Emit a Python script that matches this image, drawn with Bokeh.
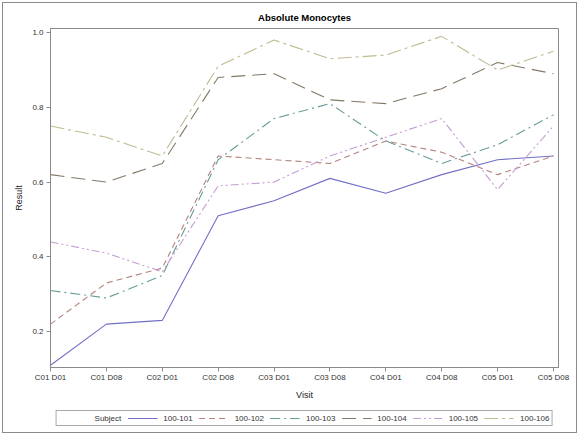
from bokeh.plotting import figure
from bokeh.layouts import column
from bokeh.models import (Range1d, FixedTicker, Legend, LegendItem, ColumnDataSource,
                          PrintfTickFormatter)
from bokeh.embed import file_html
from bokeh.resources import INLINE

# ---- data ----
visits = ["C01 D01", "C01 D08", "C02 D01", "C02 D08", "C03 D01",
          "C03 D08", "C04 D01", "C04 D08", "C05 D01", "C05 D08"]
subjects = ["100-101", "100-102", "100-103", "100-104", "100-105", "100-106"]
s101 = [0.11, 0.22, 0.23, 0.51, 0.55, 0.61, 0.57, 0.62, 0.66, 0.67]
s102 = [0.22, 0.33, 0.37, 0.67, 0.66, 0.65, 0.71, 0.68, 0.62, 0.67]
s103 = [0.31, 0.29, 0.35, 0.66, 0.77, 0.81, 0.71, 0.65, 0.70, 0.78]
s104 = [0.62, 0.60, 0.65, 0.88, 0.89, 0.82, 0.81, 0.85, 0.92, 0.89]
s105 = [0.44, 0.41, 0.36, 0.59, 0.60, 0.67, 0.72, 0.77, 0.58, 0.75]
s106 = [0.75, 0.72, 0.67, 0.91, 0.98, 0.93, 0.94, 0.99, 0.90, 0.95]
y_ticks = [0.2, 0.4, 0.6, 0.8, 1.0]
legend_title = "Subject"

series = [s101, s102, s103, s104, s105, s106]
colors = ["#7370c6", "#b5837e", "#689d98", "#847968", "#c49dd4", "#c0bb92"]
dashes = ["solid", "6 4", "10 4 2 4", "14 7", "8 3 2 3 2 3", "14 4 3 4"]

FONT = "Liberation Sans"
W = 578

p = figure(width=W, height=402, output_backend="svg", toolbar_location=None,
           x_range=Range1d(0, 9.09), y_range=Range1d(0.104, 1.011),
           min_border_left=50, min_border_right=20, min_border_top=28,
           min_border_bottom=30)

p.title.text = "Absolute Monocytes"
p.title.align = "center"
p.title.text_font = FONT
p.title.text_font_size = "9.5px"
p.title.text_font_style = "bold"
p.title.text_color = "#000000"
p.title.standoff = 11

p.outline_line_color = "#8a8a8a"
p.outline_line_width = 1
p.xgrid.visible = False
p.ygrid.visible = False

idx = list(range(len(visits)))
p.xaxis.ticker = FixedTicker(ticks=idx)
p.xaxis.major_label_overrides = {i: v for i, v in zip(idx, visits)}
p.yaxis.ticker = FixedTicker(ticks=y_ticks)
p.yaxis.formatter = PrintfTickFormatter(format="%.1f")
p.xaxis.axis_label = "Visit"
p.yaxis.axis_label = "Result"

for ax in (p.xaxis[0], p.yaxis[0]):
    ax.axis_line_color = "#8a8a8a"
    ax.major_tick_line_color = "#8a8a8a"
    ax.major_tick_out = 4
    ax.major_tick_in = 0
    ax.minor_tick_line_color = None
    ax.major_label_text_font = FONT
    ax.major_label_text_font_size = "8px"
    ax.major_label_text_color = "#333333"
    ax.axis_label_text_font = FONT
    ax.axis_label_text_font_size = "9px"
    ax.axis_label_text_font_style = "normal"
    ax.axis_label_text_color = "#222222"
p.xaxis.major_label_standoff = 1
p.xaxis.axis_label_standoff = 5
p.yaxis.major_label_standoff = 3
p.yaxis.axis_label_standoff = 5

sources = []
for name, vals, c, d in zip(subjects, series, colors, dashes):
    src = ColumnDataSource(dict(x=idx, y=vals))
    sources.append(src)
    p.line("x", "y", source=src, line_color=c, line_width=1.1, line_dash=d)

# ---- legend strip below the chart (its own frame shows no data) ----
lg = figure(width=W, height=32, output_backend="svg", toolbar_location=None,
            x_axis_type=None, y_axis_type=None,
            x_range=Range1d(0, 9.09), y_range=Range1d(5, 6),
            min_border_left=50, min_border_right=20, min_border_top=0,
            min_border_bottom=0)
lg.outline_line_color = None
lg.xgrid.visible = False
lg.ygrid.visible = False

dummy = lg.line(x="x", y="y", source=ColumnDataSource(dict(x=[], y=[])),
                line_alpha=0)
items = [LegendItem(label=legend_title, renderers=[dummy])]
for name, src, c, d in zip(subjects, sources, colors, dashes):
    r = lg.line(x="x", y="y", source=src, line_color=c, line_width=1.1,
                line_dash=d)
    items.append(LegendItem(label=name, renderers=[r]))

legend = Legend(items=items, orientation="horizontal", location="center",
                border_line_color="#555555", border_line_width=1,
                background_fill_color="white", background_fill_alpha=1,
                padding=2, margin=0, spacing=6, glyph_width=30, glyph_height=10,
                label_height=10, label_standoff=6,
                label_text_font=FONT, label_text_font_size="8px",
                label_text_color="#333333")
lg.add_layout(legend)

layout = column(p, lg, spacing=0)

html = file_html(layout, INLINE)
frame_div = ('<div style="position:fixed;left:2px;top:2px;width:573px;height:429px;'
             'border:1px solid #8a8a8a;pointer-events:none;z-index:10"></div>')
html = html.replace("</body>", frame_div + "</body>")
open("out.html", "w").write(html)
